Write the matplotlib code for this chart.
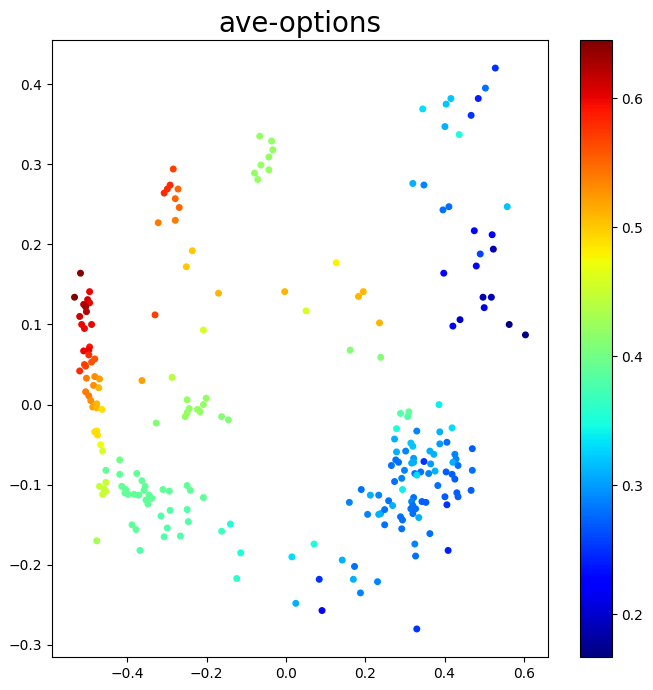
import numpy as np
import matplotlib
matplotlib.use("Agg")
import matplotlib.pyplot as plt

# point positions (x, y)
xs = [-0.518, -0.533, -0.495, -0.500, -0.495, -0.510, -0.505, -0.503, -0.520, -0.515,
      -0.508, -0.490, -0.495, -0.510, -0.497, -0.497, -0.482, -0.490, -0.508, -0.505,
      -0.520, -0.482, -0.470, -0.503, -0.485, -0.472, -0.505, -0.497, -0.492, -0.487,
      -0.477, -0.477, -0.464, -0.482, -0.477, -0.475, -0.467, -0.462,
      -0.284, -0.292, -0.299, -0.307, -0.272, -0.279, -0.269, -0.322, -0.279, -0.236,
      -0.251, -0.170, -0.330, -0.208, -0.363, -0.287, -0.327,
      -0.249, -0.201, -0.208, -0.244, -0.249, -0.254, -0.223, -0.216, -0.162, -0.145,
      -0.419, -0.454, -0.419, -0.376, -0.363, -0.454, -0.470, -0.459, -0.454, -0.462,
      -0.414, -0.404, -0.406, -0.398, -0.383, -0.371, -0.355, -0.358, -0.345, -0.338,
      -0.353, -0.348, -0.310, -0.294, -0.249, -0.241, -0.208, -0.315, -0.292, -0.249,
      -0.246, -0.388, -0.378, -0.299, -0.307, -0.266, -0.162, -0.140, -0.477, -0.368,
      -0.114, -0.124,
      -0.066, -0.036, -0.033, -0.043, -0.063, -0.079, -0.071, -0.043,
      0.127, -0.003, 0.195, 0.183, 0.051, 0.236, 0.162, 0.239,
      0.528, 0.503, 0.485, 0.416, 0.404, 0.345, 0.467, 0.401, 0.437, 0.320,
      0.348, 0.396, 0.411, 0.558, 0.475, 0.520, 0.523, 0.490, 0.480, 0.398,
      0.497, 0.518, 0.500, 0.439, 0.421, 0.563, 0.604,
      0.386, 0.289, 0.310, 0.307, 0.279, 0.330, 0.388, 0.419, 0.274, 0.315,
      0.320, 0.388, 0.406, 0.279, 0.302, 0.363, 0.373, 0.470, 0.277, 0.284,
      0.266, 0.322, 0.322, 0.317, 0.348, 0.365, 0.426, 0.429, 0.421, 0.434,
      0.299, 0.325, 0.340, 0.330, 0.360, 0.376, 0.404, 0.419, 0.426, 0.470,
      0.274, 0.292, 0.383, 0.190, 0.294, 0.467, 0.213, 0.234, 0.259, 0.269,
      0.401, 0.431, 0.434, 0.322, 0.317, 0.320, 0.343, 0.353, 0.315, 0.327,
      0.320, 0.406, 0.335, 0.206, 0.234, 0.239, 0.249, 0.289, 0.294, 0.160,
      0.249, 0.363, 0.292,
      0.071, 0.325, 0.327, 0.409, 0.142, 0.015, 0.173, 0.084, 0.170, 0.231,
      0.188, 0.025, 0.091, 0.330]

ys = [0.164, 0.134, 0.141, 0.131, 0.127, 0.125, 0.122, 0.116, 0.110, 0.100,
      0.095, 0.100, 0.072, 0.067, 0.068, 0.062, 0.057, 0.053, 0.050, 0.048,
      0.042, 0.035, 0.032, 0.033, 0.024, 0.021, 0.016, 0.011, 0.005, -0.003,
      0.001, -0.004, -0.006, -0.034, -0.033, -0.038, -0.050, -0.058,
      0.294, 0.274, 0.269, 0.264, 0.269, 0.257, 0.246, 0.227, 0.230, 0.192,
      0.172, 0.139, 0.112, 0.093, 0.030, 0.034, -0.023,
      0.006, 0.008, 0.000, -0.005, -0.010, -0.015, -0.006, -0.009, -0.015, -0.019,
      -0.069, -0.082, -0.087, -0.086, -0.095, -0.097, -0.102, -0.105, -0.108, -0.112,
      -0.102, -0.106, -0.110, -0.112, -0.112, -0.113, -0.102, -0.107, -0.113, -0.117,
      -0.119, -0.124, -0.106, -0.108, -0.101, -0.107, -0.116, -0.139, -0.132, -0.131,
      -0.146, -0.150, -0.156, -0.154, -0.165, -0.164, -0.158, -0.149, -0.170, -0.182,
      -0.185, -0.217,
      0.335, 0.329, 0.318, 0.309, 0.299, 0.289, 0.281, 0.293,
      0.177, 0.141, 0.141, 0.135, 0.117, 0.102, 0.068, 0.059,
      0.420, 0.395, 0.382, 0.382, 0.375, 0.369, 0.361, 0.347, 0.337, 0.276,
      0.274, 0.243, 0.247, 0.247, 0.217, 0.212, 0.194, 0.188, 0.173, 0.164,
      0.134, 0.134, 0.121, 0.106, 0.098, 0.100, 0.087,
      0.000, -0.011, -0.009, -0.015, -0.030, -0.033, -0.034, -0.029, -0.043, -0.048,
      -0.052, -0.049, -0.047, -0.059, -0.058, -0.058, -0.062, -0.055, -0.069, -0.072,
      -0.076, -0.067, -0.072, -0.073, -0.071, -0.074, -0.062, -0.068, -0.072, -0.076,
      -0.082, -0.086, -0.084, -0.088, -0.086, -0.083, -0.084, -0.087, -0.093, -0.082,
      -0.096, -0.092, -0.101, -0.106, -0.106, -0.107, -0.113, -0.113, -0.120, -0.126,
      -0.115, -0.110, -0.115, -0.116, -0.121, -0.126, -0.121, -0.122, -0.130, -0.130,
      -0.136, -0.125, -0.141, -0.137, -0.137, -0.136, -0.131, -0.140, -0.144, -0.122,
      -0.150, -0.161, -0.155,
      -0.174, -0.174, -0.189, -0.182, -0.194, -0.190, -0.202, -0.218, -0.218, -0.221,
      -0.235, -0.248, -0.257, -0.280]

# colour value of each point
vals = [0.64, 0.645, 0.60, 0.61, 0.60, 0.62, 0.63, 0.62, 0.61, 0.60,
        0.60, 0.60, 0.59, 0.60, 0.60, 0.58, 0.56, 0.56, 0.57, 0.57,
        0.58, 0.53, 0.52, 0.54, 0.53, 0.51, 0.54, 0.54, 0.53, 0.52,
        0.51, 0.51, 0.49, 0.49, 0.49, 0.49, 0.47, 0.46,
        0.57, 0.58, 0.58, 0.58, 0.55, 0.55, 0.55, 0.54, 0.54, 0.50,
        0.50, 0.51, 0.57, 0.46, 0.52, 0.44, 0.41,
        0.42, 0.42, 0.42, 0.42, 0.42, 0.42, 0.42, 0.42, 0.41, 0.41,
        0.40, 0.39, 0.39, 0.39, 0.39, 0.45, 0.45, 0.45, 0.45, 0.45,
        0.39, 0.39, 0.39, 0.39, 0.39, 0.39, 0.39, 0.39, 0.39, 0.39,
        0.39, 0.39, 0.39, 0.39, 0.39, 0.39, 0.39, 0.38, 0.38, 0.38,
        0.38, 0.39, 0.39, 0.38, 0.38, 0.38, 0.37, 0.35, 0.43, 0.38,
        0.35, 0.36,
        0.42, 0.42, 0.42, 0.42, 0.42, 0.42, 0.42, 0.42,
        0.48, 0.51, 0.51, 0.51, 0.46, 0.51, 0.41, 0.41,
        0.25, 0.28, 0.24, 0.32, 0.32, 0.33, 0.25, 0.31, 0.35, 0.31,
        0.29, 0.28, 0.28, 0.32, 0.23, 0.22, 0.19, 0.26, 0.23, 0.23,
        0.19, 0.19, 0.21, 0.20, 0.22, 0.17, 0.17,
        0.34, 0.38, 0.39, 0.38, 0.35, 0.29, 0.31, 0.33, 0.31, 0.32,
        0.32, 0.30, 0.28, 0.31, 0.29, 0.31, 0.31, 0.27, 0.28, 0.28,
        0.28, 0.30, 0.31, 0.31, 0.25, 0.30, 0.29, 0.29, 0.31, 0.28,
        0.29, 0.28, 0.28, 0.33, 0.29, 0.31, 0.27, 0.27, 0.27, 0.28,
        0.28, 0.29, 0.28, 0.28, 0.34, 0.27, 0.31, 0.29, 0.28, 0.31,
        0.27, 0.27, 0.27, 0.28, 0.29, 0.28, 0.27, 0.27, 0.28, 0.28,
        0.28, 0.25, 0.31, 0.29, 0.31, 0.31, 0.28, 0.28, 0.28, 0.29,
        0.28, 0.28, 0.28,
        0.35, 0.29, 0.28, 0.24, 0.31, 0.33, 0.28, 0.25, 0.31, 0.29,
        0.29, 0.31, 0.23, 0.25]

fig = plt.figure(figsize=(6.53, 6.9), dpi=100)
ax = fig.add_axes([0.0796, 0.0478, 0.7596, 0.8942])
cax = fig.add_axes([0.888, 0.0478, 0.049, 0.8942])

sc = ax.scatter(xs, ys, c=vals, cmap="jet", s=16, vmin=0.167, vmax=0.645)
ax.set_title("ave-options", fontsize=20)
ax.set_xticks([-0.4, -0.2, 0.0, 0.2, 0.4, 0.6])
ax.set_yticks(np.arange(-0.3, 0.41, 0.1))

fig.colorbar(sc, cax=cax)
fig.savefig("out.png", dpi=100)
